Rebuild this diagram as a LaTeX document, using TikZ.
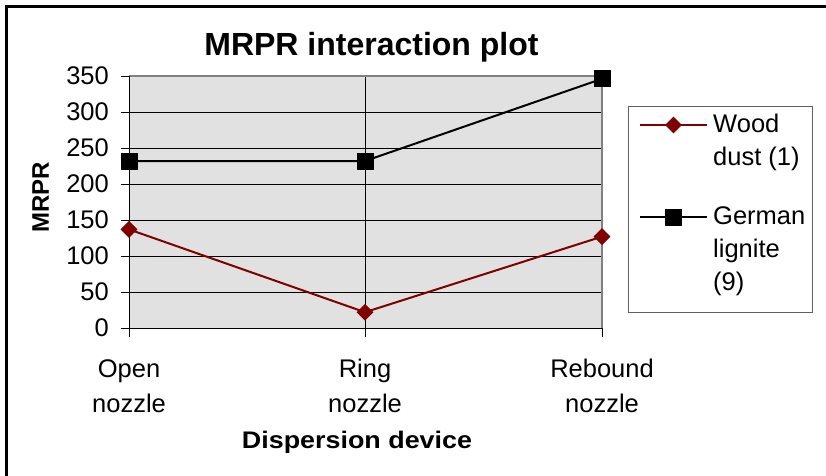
\documentclass[tikz,border=0pt]{standalone}
\usepackage{fontspec}
\setmainfont{Liberation Sans}
\usetikzlibrary{shapes.geometric}

\definecolor{wood}{HTML}{800000}
\definecolor{plotbg}{HTML}{E1E1E1}
\definecolor{frame}{HTML}{808080}

\tikzset{
  lbl/.style={inner sep=0pt, font=\fontsize{25.5}{30}\selectfont},
  boldlbl/.style={inner sep=0pt, font=\fontsize{24}{28}\selectfont\bfseries},
  woodmark/.style={diamond, fill=wood, inner sep=0pt, minimum width=17pt, minimum height=17pt},
  ligmark/.style={rectangle, fill=black, inner sep=0pt, minimum size=17pt},
  grid line/.style={black, line width=0.9pt},
  woodline/.style={wood, line width=2pt},
  ligline/.style={black, line width=2pt},
}

\begin{document}
\begin{tikzpicture}[x=1pt, y=-1pt]
  \useasboundingbox (0,0) rectangle (826,475);
  \clip (0,0) rectangle (826,475);
  % outer chart frame
  \draw[line width=3pt] (6.5,480) -- (6.5,6.5) -- (840,6.5);

  % title
  \node[inner sep=0pt, anchor=base, font=\fontsize{32}{36}\selectfont\bfseries] (title) at (371.5,55) {MRPR interaction plot};

  % plot area
  \fill[plotbg] (129,76) rectangle (602,328);
  \foreach \v in {50,100,...,300} {
    \draw[grid line] (121,{328-0.72*\v}) -- (602,{328-0.72*\v});
  }
  \draw[grid line] (121,76) -- (129,76);
  \draw[grid line] (365,76) -- (365,337);
  \draw[frame, line width=1.2pt] (129,76) -- (602,76) -- (602,328);
  \draw[grid line] (602,328) -- (602,337);
  \draw[black, line width=1pt] (129,76) -- (129,337);
  \draw[black, line width=1pt] (121,328) -- (602,328);

  % y tick labels
  \foreach \v in {0,50,...,350} {
    \node[lbl, anchor=east] (ytick\v) at (109,{328-0.72*\v}) {\v};
  }
  \node[boldlbl, rotate=90] (ylabel) at (40.5,197.5) {MRPR};

  % x tick labels
  \node[lbl, anchor=base] (xa1) at (129,377) {Open};
  \node[lbl, anchor=base] (xa2) at (129,412) {nozzle};
  \node[lbl, anchor=base] (xb1) at (365,377) {Ring};
  \node[lbl, anchor=base] (xb2) at (365,412) {nozzle};
  \node[lbl, anchor=base] (xc1) at (602,377) {Rebound};
  \node[lbl, anchor=base] (xc2) at (602,412) {nozzle};
  \node[boldlbl, anchor=base] (xlabel) at (357,448) {\scalebox{1.12}[1]{Dispersion device}};

  % data points
  \coordinate (w1) at (129,229.4);
  \coordinate (w2) at (365,312.2);
  \coordinate (w3) at (602,236.6);
  \coordinate (g1) at (129,161);
  \coordinate (g2) at (365,161);
  \coordinate (g3) at (602,78.8);

  \draw[woodline] (w1) -- (w2) -- (w3);
  \draw[ligline] (g1) -- (g2) -- (g3);
  \foreach \p in {w1,w2,w3} \node[woodmark] at (\p) {};
  \foreach \p in {g1,g2,g3} \node[ligmark] at (\p) {};

  % legend
  \draw[frame!75!black, line width=1pt, fill=white] (628,106) rectangle (812,312);
  \coordinate (lwa) at (640,125);
  \coordinate (lwb) at (707,125);
  \coordinate (lga) at (640,217);
  \coordinate (lgb) at (707,217);
  \draw[woodline] (lwa) -- (lwb);
  \node[woodmark] (lwm) at (673.5,125) {};
  \draw[ligline] (lga) -- (lgb);
  \node[ligmark] (lgm) at (673.5,217) {};
  \node[lbl, anchor=base west] (leg1) at (713,132) {Wood};
  \node[lbl, anchor=base west] (leg2) at (713,165) {dust (1)};
  \node[lbl, anchor=base west] (leg3) at (713,224) {German};
  \node[lbl, anchor=base west] (leg4) at (713,257) {lignite};
  \node[lbl, anchor=base west] (leg5) at (713,290) {(9)};
\end{tikzpicture}
\end{document}
